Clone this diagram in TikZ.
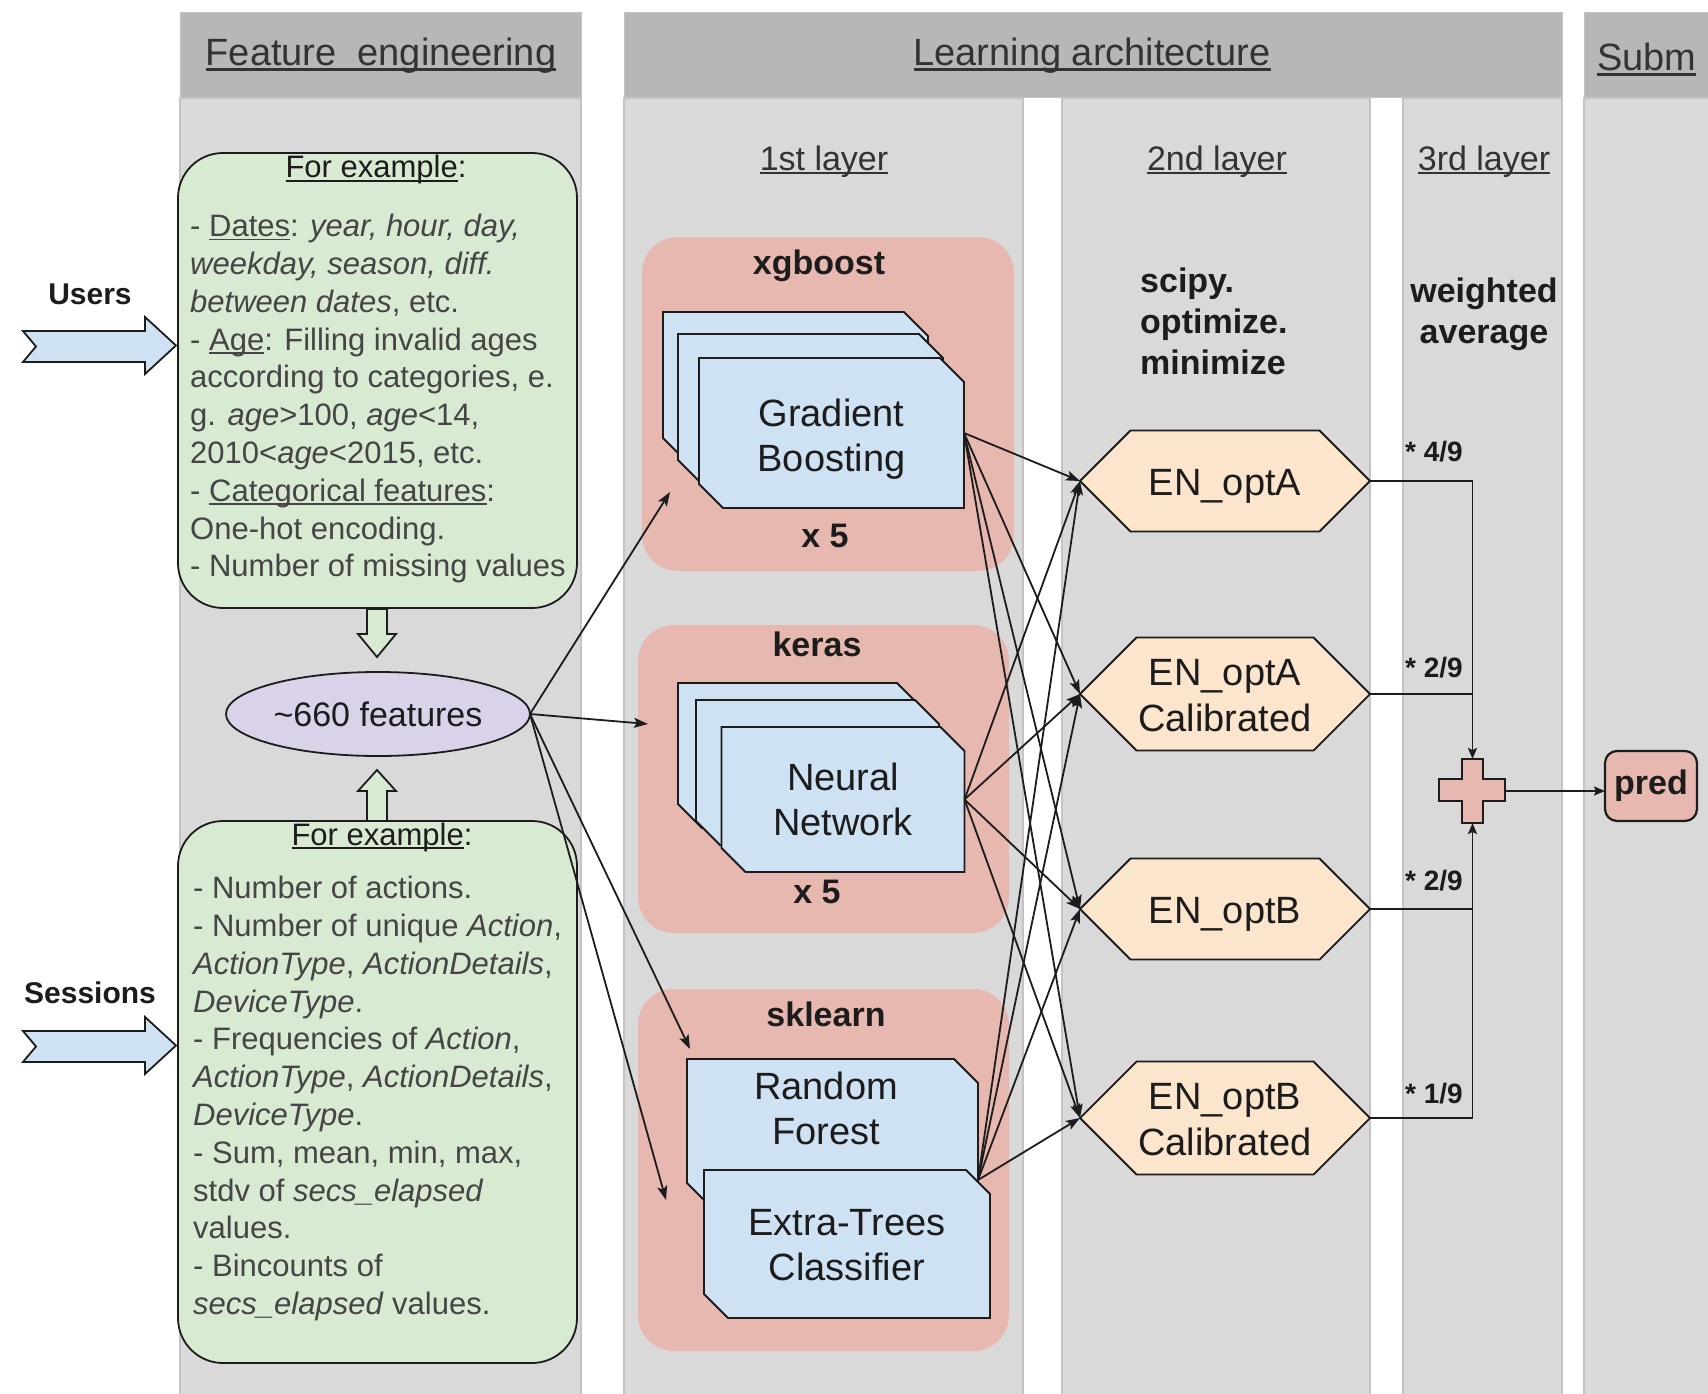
\documentclass[tikz,border=0pt]{standalone}
\usepackage{fontspec}
\setmainfont{Liberation Sans}
\usetikzlibrary{shapes.geometric,arrows.meta,calc}

\definecolor{hdrgray}{HTML}{B7B7B7}
\definecolor{bodygray}{HTML}{D9D9D9}
\definecolor{edgegray}{HTML}{C4C4C4}
\definecolor{greenfill}{HTML}{D9EAD3}
\definecolor{bluefill}{HTML}{CFE2F3}
\definecolor{pinkfill}{HTML}{E6B8AF}
\definecolor{peachfill}{HTML}{FCE5CD}
\definecolor{lavfill}{HTML}{D9D2E9}
\definecolor{ink}{HTML}{1C1C1C}
\definecolor{headink}{HTML}{333333}
\definecolor{softink}{HTML}{454545}

\newcommand\fsz[2]{\fontsize{#1}{#2}\selectfont}
% underline drawn just below the baseline
\newcommand\uln[1]{\setbox0=\hbox{#1}\rlap{\rule[-0.12em]{\wd0}{0.06em}}\box0}

% chamfered card: name, cx, cy, width, height, text, text shift
\newcommand\chcard[7]{%
  \filldraw[cardbox] ({#2-#4/2},{#3-#5/2}) -- ({#2+#4/2-24},{#3-#5/2}) -- ({#2+#4/2},{#3-#5/2+24})
    -- ({#2+#4/2},{#3+#5/2}) -- ({#2-#4/2+24},{#3+#5/2}) -- ({#2-#4/2},{#3+#5/2-24}) -- cycle;
  \node[minimum width=#4pt, minimum height=#5pt, inner sep=0pt, outer sep=0pt] (#1) at (#2,#3) {};
  \node[cardtxt] (#1-text) at ($(#1.center)+(0,#7)$) {#6};}

% hexagon pointed left and right: name, cx, cy, width, height, text, text shift
\newcommand\hexnode[7]{%
  \filldraw[hexbox] ({#2-#4/2},#3) -- ({#2-#4/2+#5/2},{#3-#5/2}) -- ({#2+#4/2-#5/2},{#3-#5/2})
    -- ({#2+#4/2},#3) -- ({#2+#4/2-#5/2},{#3+#5/2}) -- ({#2-#4/2+#5/2},{#3+#5/2}) -- cycle;
  \node[minimum width=#4pt, minimum height=#5pt, inner sep=0pt, outer sep=0pt] (#1) at (#2,#3) {};
  \node[hextxt] (#1-text) at ($(#1.center)+(0,#7)$) {#6};}

\begin{document}
\begin{tikzpicture}[x=1pt,y=-1pt,line join=miter,
  hdr/.style={fill=hdrgray,draw=edgegray,line width=1pt},
  colbody/.style={fill=bodygray,draw=edgegray,line width=1.2pt},
  group/.style={fill=pinkfill,rounded corners=36pt,inner sep=0pt,outer sep=0pt},
  notebox/.style={fill=greenfill,draw=ink,line width=1.8pt,rounded corners=45pt,inner sep=0pt,outer sep=0pt},
  cardbox/.style={fill=bluefill,draw=ink,line width=1.8pt},
  hexbox/.style={fill=peachfill,draw=ink,line width=1.8pt},
  blockarrow/.style={draw=ink,line width=1.8pt},
  headtxt/.style={font=\fsz{38}{44},text=headink,inner sep=0pt},
  layertxt/.style={font=\fsz{34}{40},text=headink,inner sep=0pt},
  notetxt/.style={font=\fsz{31}{37.8},text=softink,align=left,inner sep=0pt,anchor=north west},
  notehead/.style={font=\fsz{31}{37.8},text=ink,inner sep=0pt,anchor=base},
  cardtxt/.style={font=\fsz{38}{45},text=ink,align=center,inner sep=0pt,outer sep=0pt},
  hextxt/.style={font=\fsz{38}{46},text=ink,align=center,inner sep=0pt,outer sep=0pt},
  boldlbl/.style={font=\fsz{34}{41}\bfseries,text=ink,align=center,inner sep=0pt},
  srclbl/.style={font=\fsz{30}{36}\bfseries,text=ink,inner sep=0pt},
  wlbl/.style={font=\fsz{28}{32}\bfseries,text=ink,inner sep=0pt,anchor=east},
  link/.style={draw=ink,line width=1.8pt,-{Stealth[length=14pt,width=10pt,inset=3pt]}},
  smalllink/.style={draw=ink,line width=1.8pt,-{Stealth[length=11pt,width=9pt,inset=2pt]}},
  plain/.style={draw=ink,line width=1.8pt}]

\path[use as bounding box] (0,0) rectangle (1708,1394);
\clip (0,0) rectangle (1708,1394);

% ---------- panels ----------
\path[colbody] (180,98) rectangle (581,1400);
\path[hdr] (180,13) rectangle (581,98);
\path[colbody] (624,98) rectangle (1023,1400);
\path[colbody] (1062,98) rectangle (1370,1400);
\path[colbody] (1403,98) rectangle (1562,1400);
\path[hdr] (624,13) rectangle (1562,98);
\path[colbody] (1584,98) rectangle (1720,1400);
\path[hdr] (1584,13) rectangle (1720,98);

\node[headtxt,anchor=base] (hfe) at (381,66) {\uln{Feature\ \ engineering}};
\node[headtxt,anchor=base] (hla) at (1092,66) {\uln{Learning architecture}};
\node[headtxt,anchor=base west] (hsub) at (1597,71) {\uln{Subm}};

\node[layertxt,anchor=base] (l1) at (824,170) {\uln{1st layer}};
\node[layertxt,anchor=base] (l2) at (1217,170) {\uln{2nd layer}};
\node[layertxt,anchor=base] (l3) at (1484,170) {\uln{3rd layer}};

% ---------- feature engineering ----------
\node[notebox,minimum width=399pt,minimum height=455pt] (usersbox) at (377.5,380.5) {};
\node[notebox,minimum width=399pt,minimum height=542pt] (sessbox) at (377.5,1092) {};

\node[notehead] (ex1) at (376,178) {\uln{For example}:};
\node[notetxt] (usersnote) at (190,214) {%
- \uln{Dates}: \textit{year, hour, day,}\\
\textit{weekday, season, diff.}\\
\textit{between dates}, etc.\\
- \uln{Age}: Filling invalid ages\\
according to categories, e.\\
g. \textit{age}>100, \textit{age}<14,\\
2010<\textit{age}<2015, etc.\\
- \uln{Categorical features}:\\
One-hot encoding.\\
- Number of missing values};

\node[notehead] (ex2) at (382,845) {\uln{For example}:};
\node[notetxt] (sessnote) at (193,876) {%
- Number of actions.\\
- Number of unique \textit{Action},\\
\textit{ActionType}, \textit{ActionDetails},\\
\textit{DeviceType}.\\
- Frequencies of \textit{Action},\\
\textit{ActionType}, \textit{ActionDetails},\\
\textit{DeviceType}.\\
- Sum, mean, min, max,\\
stdv of \textit{secs\_elapsed}\\
values.\\
- Bincounts of\\
\textit{secs\_elapsed} values.};

% input arrows
\filldraw[blockarrow,fill=bluefill] (23,331) -- (145,331) -- (145,317) -- (176,345.5) -- (145,374)
  -- (145,362) -- (23,362) -- (36,346.5) -- cycle;
\node[srclbl] (users) at (90,294) {Users};
\filldraw[blockarrow,fill=bluefill] (23,1031) -- (145,1031) -- (145,1017) -- (176,1045.5) -- (145,1074)
  -- (145,1062) -- (23,1062) -- (36,1046.5) -- cycle;
\node[srclbl] (sessions) at (90,993) {Sessions};

% merge arrows into the feature set
\filldraw[blockarrow,fill=greenfill] (367,609) -- (387,609) -- (387,634) -- (396,634) -- (377,657)
  -- (358,634) -- (367,634) -- cycle;
\filldraw[blockarrow,fill=greenfill] (367,821) -- (387,821) -- (387,791) -- (396,791) -- (377,770)
  -- (358,791) -- (367,791) -- cycle;

\node[ellipse,fill=lavfill,draw=ink,line width=1.8pt,minimum width=304pt,minimum height=84pt,
  inner sep=0pt,outer sep=0pt,font=\fsz{34}{40},text=ink] (feat) at (378,714) {\textasciitilde660 features};

% ---------- 1st layer ----------
\node[group,minimum width=372pt,minimum height=334pt] (gxg) at (828,404) {};
\node[group,minimum width=371pt,minimum height=308pt] (gke) at (823.5,779) {};
\node[group,minimum width=371pt,minimum height=362pt] (gsk) at (823.5,1170) {};

\node[boldlbl] (xglbl) at (819,266) {xgboost};
\node[boldlbl] (xgn) at (825,536) {x 5};
\node[boldlbl] (kelbl) at (817,644) {keras};
\node[boldlbl] (ken) at (817,892) {x 5};
\node[boldlbl] (sklbl) at (826,1014) {sklearn};

\chcard{gbA}{795.5}{387}{265}{150}{}{0}
\chcard{gbB}{810.5}{409}{265}{150}{}{0}
\chcard{gb}{831.5}{433}{265}{150}{Gradient\\Boosting}{6}

\chcard{nnA}{799.5}{755.5}{243}{145}{}{0}
\chcard{nnB}{817.5}{772.5}{243}{145}{}{0}
\chcard{nn}{843}{799.5}{243}{145}{Neural\\Network}{0}

\chcard{rfcard}{832.5}{1133}{291}{148}{}{0}
\node[cardtxt] (rf) at (826,1108) {Random\\Forest};
\chcard{et}{847}{1244}{286}{148}{Extra-Trees\\Classifier}{1}

% ---------- 2nd layer ----------
\node[boldlbl,align=left,anchor=west] (scipy) at (1140,321) {scipy.\\optimize.\\minimize};
\hexnode{eA}{1225}{481}{290}{101}{EN\_optA}{5}
\hexnode{eAc}{1225}{694}{290}{113}{EN\_optA\\Calibrated}{2}
\hexnode{eB}{1225}{909}{290}{101}{EN\_optB}{5}
\hexnode{eBc}{1225}{1118}{290}{113}{EN\_optB\\Calibrated}{2}

% ---------- 3rd layer ----------
\node[boldlbl] (wavg) at (1484,314) {weighted\\average};
\filldraw[blockarrow,fill=pinkfill] (1462,759) -- (1483,759) -- (1483,779) -- (1505,779) -- (1505,801)
  -- (1483,801) -- (1483,823) -- (1462,823) -- (1462,801) -- (1439,801) -- (1439,779) -- (1462,779) -- cycle;
\node[minimum width=66pt,minimum height=64pt,inner sep=0pt,outer sep=0pt] (plus) at (1472.5,791) {};

\node[wlbl] (w1) at (1463,452) {* 4/9};
\node[wlbl] (w2) at (1463,668) {* 2/9};
\node[wlbl] (w3) at (1463,881) {* 2/9};
\node[wlbl] (w4) at (1463,1094) {* 1/9};

% ---------- submission ----------
\node[fill=pinkfill,draw=ink,line width=2.2pt,rounded corners=12pt,minimum width=92pt,minimum height=70pt,
  inner sep=0pt,outer sep=0pt,font=\fsz{34}{40}\bfseries,text=ink] (pred) at (1651,786) {pred};

% ---------- connectors ----------
\coordinate (xgin) at (670,492);
\coordinate (kein) at (648,724);
\coordinate (skinA) at (690,1049);
\coordinate (skinB) at (666,1200);
\coordinate (skout) at (978,1180);

\foreach \t in {xgin,kein,skinA,skinB}
  \draw[link] (feat.east) -- (\t);

\foreach \s in {gb,nn,skout}
  \foreach \t in {eA,eAc,eB,eBc}
    \draw[link] (\s.east) -- (\t.west);

\draw[smalllink] (eA.east) -| (plus.north);
\draw[plain] (eAc.east) -- (eAc.east -| plus.north);
\draw[smalllink] (eBc.east) -| (plus.south);
\draw[plain] (eB.east) -- (eB.east -| plus.south);
\draw[smalllink] (plus.east) -- (plus.east -| pred.west);

\end{tikzpicture}
\end{document}
